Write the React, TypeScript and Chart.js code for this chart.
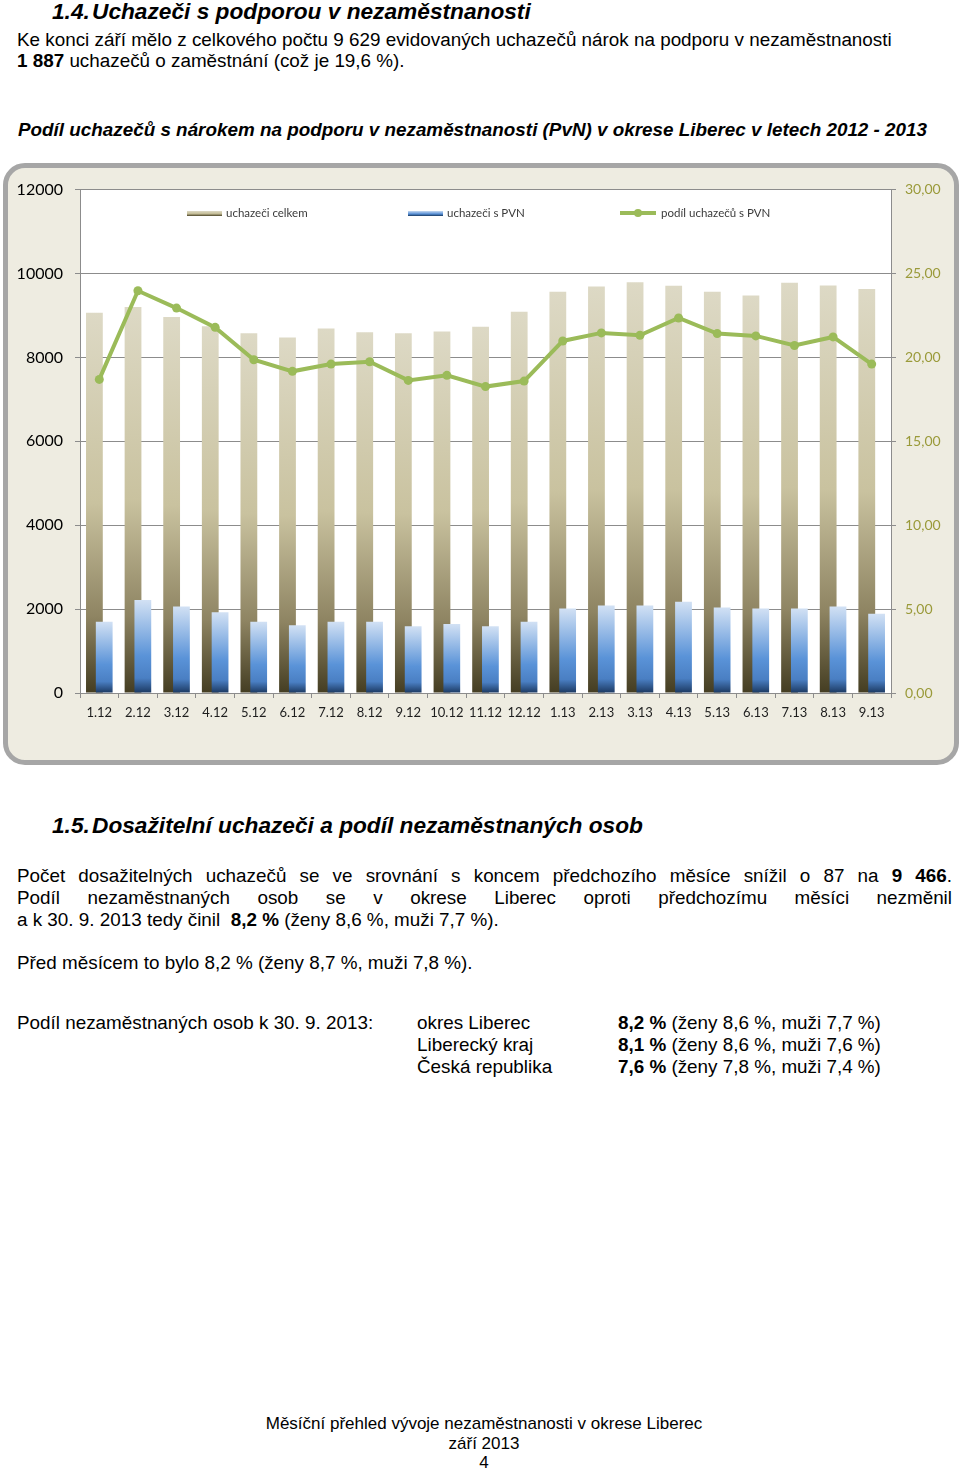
import React, { useEffect, useRef } from "react";
import { Chart, registerables } from "chart.js";

Chart.register(...registerables);

// ---------- data ----------
const months = ["1.12", "2.12", "3.12", "4.12", "5.12", "6.12", "7.12", "8.12", "9.12", "10.12", "11.12", "12.12", "1.13", "2.13", "3.13", "4.13", "5.13", "6.13", "7.13", "8.13", "9.13"];
const uchazeciCelkem = [9066, 9201, 8964, 8743, 8577, 8474, 8687, 8600, 8577, 8616, 8731, 9090, 9565, 9691, 9794, 9707, 9565, 9478, 9778, 9715, 9629];
const uchazeciPVN = [1701, 2214, 2064, 1922, 1701, 1613, 1701, 1701, 1590, 1644, 1590, 1701, 2017, 2088, 2088, 2173, 2040, 2017, 2017, 2064, 1887];
const podilPVN = [18.69, 23.97, 22.94, 21.79, 19.86, 19.17, 19.6, 19.74, 18.63, 18.93, 18.26, 18.59, 20.98, 21.46, 21.32, 22.35, 21.42, 21.28, 20.71, 21.22, 19.6];
const leftAxisMax = 12000;
const leftAxisStep = 2000;
const rightAxisMax = 30;
const rightAxisStep = 5;
const legendLabels = ["uchazeči celkem", "uchazeči s PVN", "podíl uchazečů s PVN"];

const celkemStops: [number, string][] = [[0, "#DDD9C5"], [0.5, "#C9C29F"], [0.8, "#8E8462"], [1, "#443D22"]];
const pvnStops: [number, string][] = [[0, "#D2E1F4"], [0.6, "#5A93D8"], [0.84, "#4A7FC3"], [1, "#1B3860"]];

function barGradient(stops: [number, string][]) {
  return (c: any) => {
    const chart = c.chart;
    const area = chart.chartArea;
    if (!area || c.type !== "data" || !c.parsed) return stops[1][1];
    const ys = chart.scales.y;
    const top = ys.getPixelForValue(c.parsed.y);
    const bottom = ys.getPixelForValue(0);
    if (!isFinite(top) || !isFinite(bottom) || bottom - top < 1) return stops[1][1];
    const g = chart.ctx.createLinearGradient(0, top, 0, bottom);
    stops.forEach(([o, col]) => g.addColorStop(o, col));
    return g;
  };
}

const plotBg = {
  id: "plotBg",
  beforeDraw(chart: any) {
    const { ctx, chartArea: a } = chart;
    ctx.save();
    ctx.fillStyle = "#FFFFFF";
    ctx.fillRect(a.left, a.top, a.right - a.left, a.bottom - a.top);
    ctx.restore();
  },
};

// dataset indices
const LINE_IDX = 0;
const CELKEM_IDX = 1;
const PVN_IDX = 2;

// Excel draws the right-hand (PVN) bar over the left-hand (celkem) bar
const drawOrder = {
  id: "drawOrder",
  beforeDatasetDraw(chart: any, args: any) {
    if (args.index === PVN_IDX) return false;
  },
  afterDatasetDraw(chart: any, args: any) {
    if (args.index === CELKEM_IDX) {
      const meta = chart.getDatasetMeta(PVN_IDX);
      if (meta && meta.controller) meta.controller.draw();
    }
  },
};

const GRID = "#8C8C8C";
const CAT_PCT = 0.508;
const BAR_PCT = 1.71;

function ChartBox() {
  const ref = useRef<HTMLCanvasElement | null>(null);
  useEffect(() => {
    if (!ref.current) return;
    const chart = new Chart(ref.current, {
      type: "bar",
      data: {
        labels: months,
        datasets: [
          {
            type: "line",
            label: legendLabels[2],
            data: podilPVN,
            yAxisID: "y1",
            order: 0,
            borderColor: "#9BBB59",
            backgroundColor: "#9BBB59",
            borderWidth: 4,
            pointRadius: 4.5,
            pointBackgroundColor: "#9BBB59",
            pointBorderWidth: 0,
            tension: 0,
          } as any,
          {
            type: "bar",
            label: legendLabels[0],
            data: uchazeciCelkem,
            yAxisID: "y",
            order: 1,
            backgroundColor: barGradient(celkemStops),
            borderWidth: 0,
            categoryPercentage: CAT_PCT,
            barPercentage: BAR_PCT,
          } as any,
          {
            type: "bar",
            label: legendLabels[1],
            data: uchazeciPVN,
            yAxisID: "y",
            order: 2,
            backgroundColor: barGradient(pvnStops),
            borderWidth: 0,
            categoryPercentage: CAT_PCT,
            barPercentage: BAR_PCT,
          } as any,
        ],
      },
      options: {
        responsive: false,
        animation: false,
        devicePixelRatio: 1,
        layout: { padding: { top: 19, left: 0, right: 0, bottom: 0 } },
        plugins: { legend: { display: false }, tooltip: { enabled: false } },
        scales: {
          x: {
            type: "category",
            offset: true,
            grid: { display: true, drawOnChartArea: false, drawTicks: true, tickLength: 5, color: GRID, offset: true },
            border: { display: true, color: GRID },
            ticks: { color: "#1E1E1E", font: { family: "Lato", size: 13 }, padding: 7, maxRotation: 0, autoSkip: false },
            afterFit: (s: any) => { s.height = 67; },
          },
          y: {
            position: "left",
            min: 0,
            max: leftAxisMax,
            ticks: {
              stepSize: leftAxisStep,
              color: "#000000",
              font: { family: "Lato", size: 16 },
              padding: 12,
              callback: (v: any) => String(v),
            },
            grid: { color: GRID, tickLength: 5 },
            border: { display: true, color: GRID },
            afterFit: (s: any) => { s.width = 72; },
          },
          y1: {
            position: "right",
            min: 0,
            max: rightAxisMax,
            ticks: {
              stepSize: rightAxisStep,
              color: "#9A9A3A",
              font: { family: "Lato", size: 14 },
              padding: 9,
              callback: (v: any) => Number(v).toFixed(2).replace(".", ","),
            },
            grid: { drawOnChartArea: false, tickLength: 5, color: GRID },
            border: { display: true, color: GRID },
            afterFit: (s: any) => { s.width = 63; },
          },
        },
      } as any,
      plugins: [plotBg, drawOrder],
    });
    return () => chart.destroy();
  }, []);
  return <canvas ref={ref} width={946} height={592} style={{ position: "absolute", left: 0, top: 0 }} />;
}

const BODY = 18.85;
const HEAD = 22.7;

const base: React.CSSProperties = {
  position: "absolute",
  fontFamily: "'Liberation Sans', Arial, sans-serif",
  color: "#000",
  whiteSpace: "nowrap",
};

function T(props: { x: number; cy: number; size: number; lh?: number; style?: React.CSSProperties; children: React.ReactNode }) {
  const lh = props.lh ?? Math.round(props.size * 1.25);
  return (
    <div style={{ ...base, left: props.x, top: props.cy - lh / 2, fontSize: props.size, lineHeight: lh + "px", ...props.style }}>
      {props.children}
    </div>
  );
}

function J(props: { cy: number; children: React.ReactNode }) {
  const lh = 22;
  return (
    <div style={{ ...base, left: 17, width: 935, top: props.cy - lh / 2, fontSize: BODY, lineHeight: lh + "px", textAlign: "justify", textAlignLast: "justify", whiteSpace: "normal" } as any}>
      {props.children}
    </div>
  );
}

const legendText: React.CSSProperties = {
  position: "absolute",
  fontFamily: "Lato, sans-serif",
  fontSize: 11.5,
  lineHeight: "14px",
  color: "#3A3A3A",
  whiteSpace: "nowrap",
};

export default function App() {
  const hStyle: React.CSSProperties = { fontWeight: "bold", fontStyle: "italic" };
  return (
    <div style={{ position: "absolute", left: 0, top: 0, width: 960, height: 1471, background: "#fff", overflow: "hidden" }}>
      <T x={52} cy={11} size={HEAD} style={hStyle}>1.4.</T>
      <T x={92} cy={11} size={HEAD} style={hStyle}>Uchazeči s podporou v nezaměstnanosti</T>
      <T x={17} cy={40} size={BODY}>Ke konci září mělo z celkového počtu 9 629 evidovaných uchazečů nárok na podporu v nezaměstnanosti</T>
      <T x={17} cy={61} size={BODY}><b>1 887</b> uchazečů o zaměstnání (což je 19,6 %).</T>
      <T x={18} cy={130} size={BODY} style={hStyle}>Podíl uchazečů s nárokem na podporu v nezaměstnanosti (PvN) v okrese Liberec v letech 2012 - 2013</T>

      <div style={{ position: "absolute", left: 3, top: 163, width: 956, height: 602, boxSizing: "border-box", border: "5px solid #A6A6A6", borderRadius: 22, background: "#EEECE1", overflow: "hidden" }}>
        <ChartBox />
      </div>

      {/* legend */}
      <div style={{ position: "absolute", left: 187, top: 211, width: 35, height: 5, background: "linear-gradient(#DDD9C5, #C4BD97 55%, #4A4326)" }} />
      <div style={{ ...legendText, left: 226, top: 206 }}>{legendLabels[0]}</div>
      <div style={{ position: "absolute", left: 408, top: 211, width: 35, height: 5, background: "linear-gradient(#C6D9F1, #558ED5 60%, #17375E)" }} />
      <div style={{ ...legendText, left: 447, top: 206 }}>{legendLabels[1]}</div>
      <div style={{ position: "absolute", left: 620, top: 211, width: 36, height: 4, background: "#9BBB59" }} />
      <div style={{ position: "absolute", left: 634, top: 209, width: 8, height: 8, borderRadius: 4, background: "#9BBB59" }} />
      <div style={{ ...legendText, left: 661, top: 206 }}>{legendLabels[2]}</div>

      <T x={52} cy={825} size={HEAD} style={hStyle}>1.5.</T>
      <T x={92} cy={825} size={HEAD} style={hStyle}>Dosažitelní uchazeči a podíl nezaměstnaných osob</T>

      <J cy={876}>Počet dosažitelných uchazečů se ve srovnání s koncem předchozího měsíce snížil o 87 na <b>9 466</b>.</J>
      <J cy={898}>Podíl nezaměstnaných osob se v okrese Liberec oproti předchozímu měsíci nezměnil</J>
      <T x={17} cy={920} size={BODY}>a k 30. 9. 2013 tedy činil&nbsp; <b>8,2 %</b> (ženy 8,6 %, muži 7,7 %).</T>

      <T x={17} cy={963} size={BODY}>Před měsícem to bylo 8,2 % (ženy 8,7 %, muži 7,8 %).</T>

      <T x={17} cy={1023} size={BODY}>Podíl nezaměstnaných osob k 30. 9. 2013:</T>
      <T x={417} cy={1023} size={BODY}>okres Liberec</T>
      <T x={417} cy={1045} size={BODY}>Liberecký kraj</T>
      <T x={417} cy={1067} size={BODY}>Česká republika</T>
      <T x={618} cy={1023} size={BODY}><b>8,2 %</b> (ženy 8,6 %, muži 7,7 %)</T>
      <T x={618} cy={1045} size={BODY}><b>8,1 %</b> (ženy 8,6 %, muži 7,6 %)</T>
      <T x={618} cy={1067} size={BODY}><b>7,6 %</b> (ženy 7,8 %, muži 7,4 %)</T>

      <div style={{ ...base, left: 0, width: 968, top: 1414, fontSize: 17, lineHeight: "19.5px", textAlign: "center" }}>
        Měsíční přehled vývoje nezaměstnanosti v okrese Liberec<br />září 2013<br />4
      </div>
    </div>
  );
}
